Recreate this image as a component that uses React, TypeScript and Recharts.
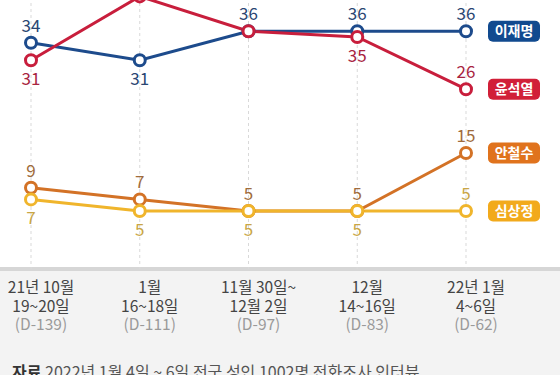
import { LineChart, Line, XAxis, YAxis, CartesianGrid, LabelList } from "recharts";

const dateLine1 = ["21년 10월", "1월", "11월 30일~", "12월", "22년 1월"];
const dateLine2 = ["19~20일", "16~18일", "12월 2일", "14~16일", "4~6일"];
const dDays = ["(D-139)", "(D-111)", "(D-97)", "(D-83)", "(D-62)"];

const lee = [34, 31, 36, 36, 36];
const yoon = [31, 42, 36, 35, 26];
const ahn = [9, 7, 5, 5, 15];
const sim = [7, 5, 5, 5, 5];

const data = dateLine1.map((d, i) => ({
  idx: i,
  lee: lee[i],
  yoon: yoon[i],
  ahn: ahn[i],
  sim: sim[i],
}));

const FONT = "'Noto Sans CJK KR', 'Noto Sans', sans-serif";

type Series = {
  key: string;
  name: string;
  line: string;
  badge: string;
  text: string;
  place: (string | null)[];
};

// label placement per point: above / below / none (yoon's 2nd point sits off the top edge)
const series: Series[] = [
  { key: "lee", name: "이재명", line: "#1d4b8c", badge: "#114a8f", text: "#2a4672", place: ["up", "down", "up", "up", "up"] },
  { key: "yoon", name: "윤석열", line: "#c81e3c", badge: "#d11f38", text: "#a8243f", place: ["down", null, null, "down", "up"] },
  { key: "ahn", name: "안철수", line: "#d37226", badge: "#e0731d", text: "#a06c3c", place: ["up", "up", "up", "up", "up"] },
  { key: "sim", name: "심상정", line: "#f0b52c", badge: "#f2aa1c", text: "#c9a646", place: ["down", "down", "down", "down", "up"] },
];

const makeLabel = (s: Series) => (props: any) => {
  const { x, y, value, index } = props;
  const p = s.place[index];
  const last = index === data.length - 1;
  return (
    <g>
      {p && (
        <text
          x={x}
          y={p === "up" ? y - 11 : y + 25}
          textAnchor="middle"
          fontSize={17}
          fontFamily={FONT}
          fill={s.text}
        >
          {value}
        </text>
      )}
      {last && (
        <g>
          <rect x={x + 22} y={y - 10.5} width={52} height={21} rx={5} fill={s.badge} />
          <text
            x={x + 48}
            y={y + 5}
            textAnchor="middle"
            fontSize={14}
            fontWeight={700}
            fontFamily={FONT}
            fill="#fff"
          >
            {s.name}
          </text>
        </g>
      )}
    </g>
  );
};

const DateTick = (props: any) => {
  const { x, y, payload } = props;
  const i = payload.index;
  const cx = x + 10;
  return (
    <g fontSize={15.5} fontFamily={FONT} textAnchor="middle">
      <text x={cx} y={y + 16} fill="#444">{dateLine1[i]}</text>
      <text x={cx} y={y + 34.5} fill="#444">{dateLine2[i]}</text>
      <text x={cx} y={y + 53} fill="#9a9a9a">{dDays[i]}</text>
    </g>
  );
};

export default function App() {
  return (
    <div
      style={{
        position: "absolute",
        left: 0,
        top: 0,
        width: 560,
        height: 375,
        overflow: "hidden",
        background: "#fff",
        fontFamily: FONT,
      }}
    >
      {/* bottom band */}
      <div style={{ position: "absolute", left: 0, top: 267, width: 560, height: 4, background: "#d6d6d6" }} />
      <div style={{ position: "absolute", left: 0, top: 271, width: 560, height: 104, background: "#f3f3f3" }} />

      <div style={{ position: "absolute", left: 0, top: -31 }}>
        <LineChart width={560} height={380} data={data} margin={{ top: 10, right: 94, bottom: 0, left: 31 }}>
          <CartesianGrid vertical horizontal={false} stroke="#d9d9d9" strokeDasharray="3 3" />
          <XAxis dataKey="idx" height={80} axisLine={false} tickLine={false} interval={0} tick={<DateTick />} />
          <YAxis hide domain={[-5, 45]} />
          {series.map((s) => (
            <Line
              key={s.key}
              dataKey={s.key}
              stroke={s.line}
              strokeWidth={3}
              isAnimationActive={false}
              dot={{ r: 5.5, fill: "#fff", stroke: s.line, strokeWidth: 3 }}
              activeDot={false}
            >
              <LabelList dataKey={s.key} content={makeLabel(s)} />
            </Line>
          ))}
        </LineChart>
      </div>

      <div
        style={{
          position: "absolute",
          left: 12,
          top: 361,
          fontSize: 16,
          lineHeight: "20px",
          color: "#555",
          whiteSpace: "nowrap",
        }}
      >
        <b style={{ color: "#333" }}>자료</b> 2022년 1월 4일 ~ 6일 전국 성인 1002명 전화조사 인터뷰
      </div>
    </div>
  );
}
